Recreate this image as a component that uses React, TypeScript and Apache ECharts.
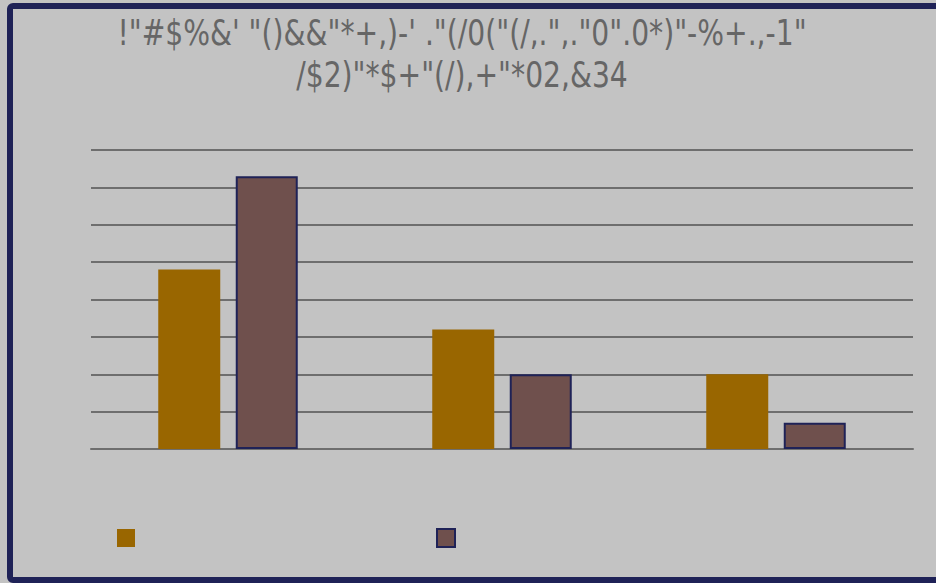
import React, { useEffect, useRef } from "react";
import * as echarts from "echarts";

const titleLines = [
  "!\"#$%&' \"()&&\"*+,)-' .\"(/0(\"(/,.\",.\"0\".0*)\"-%+.,-1\"",
  "/$2)\"*$+\"(/),+\"*02,&34",
];
const categories = ["A", "B", "C"];
const seriesNames = ["Series 1", "Series 2"];
const series1 = [4.8, 3.2, 2.0];
const series2 = [7.3, 2.0, 0.7];

export default function App() {
  const ref = useRef<HTMLDivElement>(null);
  useEffect(() => {
    document.body.style.margin = "0";
    const chart = echarts.init(ref.current!, null, { renderer: "svg" });
    chart.setOption({
      animation: false,
      backgroundColor: "#c3c3c3",
      graphic: [
        {
          type: "rect",
          shape: { x: 10, y: 6, width: 940, height: 574, r: 3 },
          style: { fill: "none", stroke: "#1f2257", lineWidth: 6 },
          z: 100,
        },
        {
          type: "text",
          x: 462,
          y: 12,
          scaleX: 0.87,
          style: {
            text: titleLines.join("\n"),
            align: "center",
            verticalAlign: "top",
            fontSize: 36,
            lineHeight: 42,
            fontFamily: "'DejaVu Sans Condensed', sans-serif",
            fill: "#666666",
          },
        },
      ],
      legend: {
        left: 112,
        top: 523,
        itemWidth: 18,
        itemHeight: 18,
        icon: "rect",
        itemGap: 301,
        formatter: () => "",
        data: seriesNames,
        selectedMode: false,
      },
      grid: { left: 91, right: 23, top: 150, bottom: 134 },
      xAxis: {
        type: "category",
        data: categories,
        axisLine: { lineStyle: { color: "#6e6e6e", width: 2 } },
        axisTick: { show: false },
        axisLabel: { show: false },
      },
      yAxis: {
        type: "value",
        min: 0,
        max: 8,
        interval: 1,
        axisLabel: { show: false },
        axisLine: { show: false },
        axisTick: { show: false },
        splitLine: { lineStyle: { color: "#6e6e6e", width: 2 } },
      },
      series: [
        {
          name: seriesNames[0],
          type: "bar",
          data: series1,
          barWidth: 62,
          barGap: "25%",
          itemStyle: { color: "#996600" },
        },
        {
          name: seriesNames[1],
          type: "bar",
          data: series2,
          barWidth: 62,
          itemStyle: { color: "#6f504d", borderColor: "#1f2257", borderWidth: 2 },
        },
      ],
    });
    return () => chart.dispose();
  }, []);
  return <div ref={ref} style={{ width: 936, height: 583 }} />;
}
